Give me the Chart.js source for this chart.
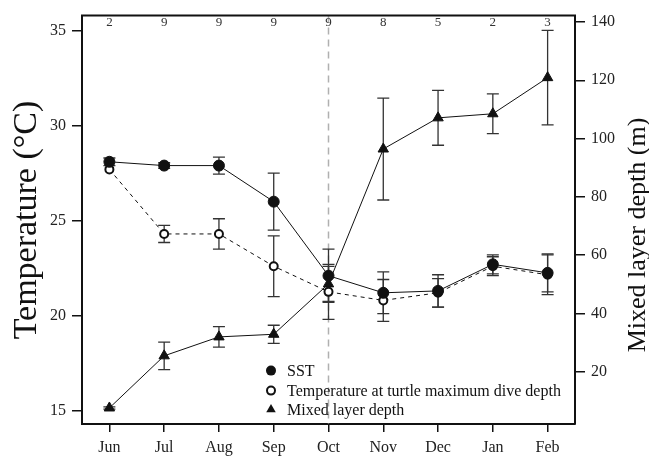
<!DOCTYPE html>
<html>
<head>
<meta charset="utf-8">
<script src="https://cdn.jsdelivr.net/npm/chart.js@4.4.1/dist/chart.umd.min.js"></script>
<style>
  html, body { margin: 0; padding: 0; background: #fff; }
  #wrap { width: 649px; height: 460px; }
</style>
</head>
<body>
<div id="wrap"><canvas id="myChart" width="649" height="460"></canvas></div>
<script>
// months and number of turtles per month (printed along the top)
const months = ['Jun', 'Jul', 'Aug', 'Sep', 'Oct', 'Nov', 'Dec', 'Jan', 'Feb'];
const sampleSizes = [2, 9, 9, 9, 9, 8, 5, 2, 3];

// sea surface temperature, mean and error (°C)
const sst = [28.1, 27.9, 27.9, 26.0, 22.1, 21.2, 21.3, 22.7, 22.25];
const sstErr = [0.2, 0.15, 0.45, 1.5, 1.4, 1.1, 0.85, 0.5, 1.0];

// temperature at turtle maximum dive depth (°C)
const diveTemp = [27.7, 24.3, 24.3, 22.6, 21.25, 20.8, 21.2, 22.6, 22.15];
const diveErr = [0, 0.45, 0.8, 1.6, 1.45, 1.1, 0.75, 0.5, 1.05];

// mixed layer depth (m)
const mld = [7.5, 25.4, 31.9, 32.8, 50.1, 96.4, 107.1, 108.5, 120.9];
const mldErr = [0.4, 4.7, 3.5, 3.1, 6, 17.5, 9.4, 6.8, 16.2];

const tempTicks = [15, 20, 25, 30, 35];
const mldTicks = [20, 40, 60, 80, 100, 120, 140];
const markerMonth = 'Oct';
const leftTitle = 'Temperature (°C)';
const rightTitle = 'Mixed layer depth (m)';

const serif = '"Liberation Serif", "DejaVu Serif", serif';
Chart.defaults.font.family = serif;
Chart.defaults.color = '#222';

function rotatedTitle(ctx, text, size, x, y) {
    ctx.save();
    ctx.font = size + 'px ' + serif;
    ctx.fillStyle = '#111';
    ctx.textAlign = 'center';
    ctx.textBaseline = 'alphabetic';
    ctx.translate(x, y);
    ctx.rotate(-Math.PI / 2);
    ctx.fillText(text, 0, 0);
    ctx.restore();
}

// error bars, dashed month marker, box, counts, legend, axis titles
const extras = {
    id: 'extras',
    beforeDatasetsDraw(chart) {
        const { ctx, chartArea: a, scales } = chart;
        ctx.save();
        // dashed vertical line
        const xv = scales.x.getPixelForValue(months.indexOf(markerMonth));
        ctx.strokeStyle = '#b0b0b0';
        ctx.lineWidth = 1.5;
        ctx.setLineDash([7, 5]);
        ctx.beginPath();
        ctx.moveTo(xv, a.top);
        ctx.lineTo(xv, a.bottom);
        ctx.stroke();
        ctx.setLineDash([]);

        // error bars
        ctx.strokeStyle = '#333';
        ctx.lineWidth = 1.3;
        chart.data.datasets.forEach(ds => {
            const ys = scales[ds.yAxisID];
            ds.data.forEach((v, i) => {
                const e = ds.errors[i];
                if (!e) return;
                const x = scales.x.getPixelForValue(i);
                const y1 = ys.getPixelForValue(v + e);
                const y2 = ys.getPixelForValue(v - e);
                ctx.beginPath();
                ctx.moveTo(x, y1); ctx.lineTo(x, y2);
                ctx.moveTo(x - 6, y1); ctx.lineTo(x + 6, y1);
                ctx.moveTo(x - 6, y2); ctx.lineTo(x + 6, y2);
                ctx.stroke();
            });
        });
        ctx.restore();
    },
    afterDraw(chart) {
        const { ctx, chartArea: a, scales } = chart;
        ctx.save();
        // top border of the box
        ctx.strokeStyle = '#111';
        ctx.lineWidth = 2;
        ctx.beginPath();
        ctx.moveTo(a.left - 1, a.top);
        ctx.lineTo(a.right + 1, a.top);
        ctx.stroke();

        // sample sizes
        ctx.fillStyle = '#333';
        ctx.font = '13px ' + serif;
        ctx.textAlign = 'center';
        ctx.textBaseline = 'middle';
        sampleSizes.forEach((n, i) => {
            ctx.fillText(String(n), scales.x.getPixelForValue(i), a.top + 7);
        });

        // legend
        const lx = a.left + 189;
        const rows = [a.top + 355, a.top + 375, a.top + 394];
        ctx.font = '16px ' + serif;
        ctx.textAlign = 'left';
        ctx.fillStyle = '#111';
        chart.data.datasets.forEach((ds, k) => {
            const y = rows[k];
            ctx.beginPath();
            if (ds.pointStyle === 'triangle') {
                const r = 5.5;
                ctx.moveTo(lx, y - r);
                ctx.lineTo(lx + r * 0.866, y + r / 2);
                ctx.lineTo(lx - r * 0.866, y + r / 2);
                ctx.closePath();
                ctx.fill();
            } else if (ds.pointBackgroundColor === '#fff') {
                ctx.lineWidth = 2;
                ctx.strokeStyle = '#111';
                ctx.arc(lx, y, 4, 0, Math.PI * 2);
                ctx.stroke();
            } else {
                ctx.arc(lx, y, 5, 0, Math.PI * 2);
                ctx.fill();
            }
            ctx.fillText(ds.label, a.left + 205, y + 1);
        });
        ctx.restore();

        // axis titles, both reading bottom to top
        rotatedTitle(ctx, leftTitle, 34, 36, 220);
        rotatedTitle(ctx, rightTitle, 26, 645, 235);
    }
};

const axisGrid = { drawOnChartArea: false, drawTicks: true, tickLength: 10, color: '#111', lineWidth: 1.5 };
const axisBorder = { display: true, color: '#111', width: 2 };

new Chart(document.getElementById('myChart'), {
    type: 'line',
    data: {
        labels: months,
        datasets: [{
            label: 'SST',
            data: sst,
            errors: sstErr,
            yAxisID: 'y',
            borderColor: '#111',
            borderWidth: 1,
            pointStyle: 'circle',
            pointRadius: 5.5,
            pointBackgroundColor: '#111',
            pointBorderColor: '#111',
            pointBorderWidth: 1,
            fill: false
        }, {
            label: 'Temperature at turtle maximum dive depth',
            data: diveTemp,
            errors: diveErr,
            yAxisID: 'y',
            borderColor: '#111',
            borderWidth: 1,
            borderDash: [4, 4],
            pointStyle: 'circle',
            pointRadius: 4,
            pointBackgroundColor: '#fff',
            pointBorderColor: '#111',
            pointBorderWidth: 2,
            fill: false
        }, {
            label: 'Mixed layer depth',
            data: mld,
            errors: mldErr,
            yAxisID: 'y2',
            borderColor: '#111',
            borderWidth: 1,
            pointStyle: 'triangle',
            pointRadius: 6,
            pointBackgroundColor: '#111',
            pointBorderColor: '#111',
            pointBorderWidth: 1,
            fill: false
        }]
    },
    options: {
        responsive: false,
        animation: false,
        events: [],
        layout: { padding: { top: 10, left: 0, right: 0, bottom: 0 } },
        plugins: { legend: { display: false }, tooltip: { enabled: false } },
        scales: {
            x: {
                type: 'category',
                offset: true,
                grid: { ...axisGrid, offset: false, tickLength: 8 },
                border: axisBorder,
                ticks: { color: '#222', font: { size: 16 }, padding: 6, maxRotation: 0 },
                afterFit: s => { s.height = 36; }
            },
            y: {
                position: 'left',
                min: 14.29,
                max: 35.8,
                grid: axisGrid,
                border: axisBorder,
                afterBuildTicks: s => { s.ticks = tempTicks.map(v => ({ value: v })); },
                ticks: { color: '#222', font: { size: 16 }, padding: 6 },
                afterFit: s => { s.width = 82; }
            },
            y2: {
                position: 'right',
                min: 2,
                max: 142.2,
                grid: axisGrid,
                border: axisBorder,
                afterBuildTicks: s => { s.ticks = mldTicks.map(v => ({ value: v })); },
                ticks: { color: '#222', font: { size: 16 }, padding: 6 },
                afterFit: s => { s.width = 74; }
            }
        }
    },
    plugins: [extras]
});
</script>
</body>
</html>
